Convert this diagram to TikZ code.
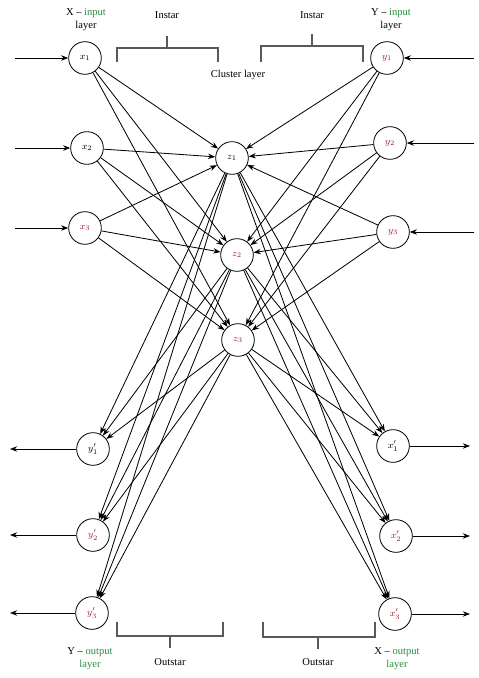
\documentclass[tikz,border=0pt]{standalone}
\usepackage{fontspec}
\setmainfont{Liberation Serif}
\usepackage{xcolor}
\usetikzlibrary{arrows.meta}
\definecolor{lblred}{RGB}{150,30,45}
\definecolor{lblgreen}{RGB}{40,140,60}

\begin{document}
\begin{tikzpicture}[x=0.03cm,y=-0.03cm,line width=0.7pt,
  neuron/.style={shape=circle,draw,minimum size=0.98cm,inner sep=0pt,font=\footnotesize},
  lbl/.style={align=center,font=\small,inner sep=1pt}]
\useasboundingbox (0,0) rectangle (478,678);
% input and cluster neurons
\node[neuron] (x1) at (85,58) {$x_1$};
\node[neuron] (x2) at (87,148) {$x_2$};
\node[neuron] (x3) at (85,228) {\color{lblred}$x_3$};
\node[neuron] (y1) at (387,58) {\color{lblred}$y_1$};
\node[neuron] (y2) at (390,143) {\color{lblred}$y_2$};
\node[neuron] (y3) at (393,232) {\color{lblred}$y_3$};
\node[neuron] (z1) at (232,158) {$z_1$};
\node[neuron] (z2) at (237,255) {\color{lblred}$z_2$};
\node[neuron] (z3) at (238,340) {\color{lblred}$z_3$};
% output neurons
\node[neuron] (yo1) at (93,449) {$y_1'$};
\node[neuron] (yo2) at (93,535) {\color{lblred}$y_2'$};
\node[neuron] (yo3) at (92,613) {\color{lblred}$y_3'$};
\node[neuron] (xo1) at (393,446) {$x_1'$};
\node[neuron] (xo2) at (396,536) {\color{lblred}$x_2'$};
\node[neuron] (xo3) at (395,614) {\color{lblred}$x_3'$};
% weights
\foreach \a in {x1,x2,x3,y1,y2,y3}
  \foreach \b in {z1,z2,z3}
    \draw[-Stealth](\a)--(\b);
\foreach \a in {z1,z2,z3}
  \foreach \b in {yo1,yo2,yo3,xo1,xo2,xo3}
    \draw[-Stealth](\a)--(\b);
% inputs and outputs
\foreach \n in {x1,x2,x3}
  \coordinate (e\n) at (15,0 |- \n);
\foreach \n in {yo1,yo2,yo3}
  \coordinate (e\n) at (10,0 |- \n);
\foreach \n in {y1,y2,y3}
  \coordinate (e\n) at (474,0 |- \n);
\foreach \n in {xo1,xo2,xo3}
  \coordinate (e\n) at (470,0 |- \n);
\foreach \n in {x1,x2,x3,y1,y2,y3}
  \draw[-Stealth](e\n)--(\n);
\foreach \n in {yo1,yo2,yo3,xo1,xo2,xo3}
  \draw[-Stealth](\n)--(e\n);
% braces
\draw[gray!70!black,line width=0.9pt](117,62)--(117,48)--(218,48)--(218,62)(167,48)--(167,36);
\draw[gray!70!black,line width=0.9pt](261,62)--(261,46)--(363,46)--(363,62)(312,46)--(312,34);
\draw[gray!70!black,line width=0.9pt](117,622)--(117,636)--(223,636)--(223,622)(170,636)--(170,648);
\draw[gray!70!black,line width=0.9pt](263,622)--(263,637)--(375,637)--(375,622)(318,637)--(318,649);
% texts
\node[lbl] (xin) at (86,20) {X -- \textcolor{lblgreen}{input}\\layer};
\node[lbl] (yin) at (391,20) {Y -- \textcolor{lblgreen}{input}\\layer};
\node[lbl] (ins1) at (167,15) {Instar};
\node[lbl] (ins2) at (312,15) {Instar};
\node[lbl] (clu) at (238,75) {Cluster layer};
\node[lbl] (yout) at (90,659) {Y -- \textcolor{lblgreen}{output}\\\textcolor{lblgreen}{layer}};
\node[lbl] (xout) at (397,659) {X -- \textcolor{lblgreen}{output}\\\textcolor{lblgreen}{layer}};
\node[lbl] (outs1) at (170,662) {Outstar};
\node[lbl] (outs2) at (318,662) {Outstar};
\end{tikzpicture}
\end{document}
